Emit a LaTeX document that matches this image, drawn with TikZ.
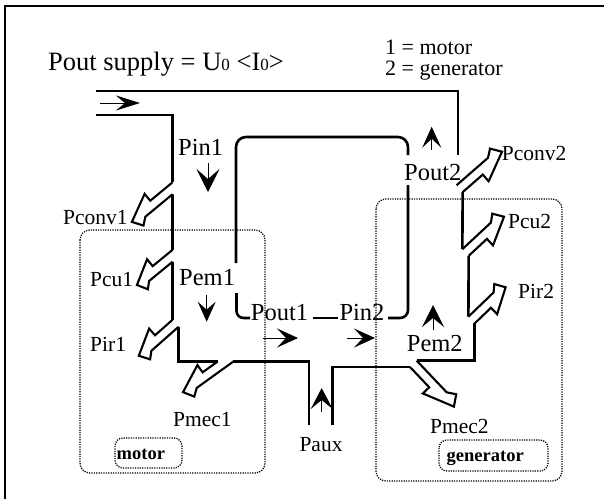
\documentclass[tikz,border=0pt]{standalone}
\usepackage{fontspec}
\setmainfont{Liberation Serif}
\usetikzlibrary{arrows.meta}
\tikzset{
  wall/.style={line width=2.6pt, line cap=butt, line join=miter},
  zline/.style={line width=2.1pt, line join=miter},
  flow/.style={line width=1pt, -{Stealth[length=21pt, width=19pt, inset=9pt]}},
  dotbox/.style={line width=1.3pt, dash pattern=on 1.2pt off 1.2pt, rounded corners=10pt},
  big/.style={inner sep=0pt, anchor=base west, font=\fontsize{24.5}{25}\selectfont},
  small/.style={inner sep=0pt, anchor=base west, font=\fontsize{21.5}{22}\selectfont},
  legend/.style={inner sep=0pt, anchor=base west, font=\fontsize{22}{22}\selectfont},
  boxtext/.style={inner sep=0pt, anchor=base west, font=\bfseries\fontsize{18.5}{19}\selectfont},
  pics/zarrow/.style n args={2}{code={
    \coordinate (-a) at (#2,-4.6);
    \coordinate (-b) at (-#2,4.6);
    \draw[zline] (#2,-4.6) -- ({0.741*#1},-4.6) -- ({0.875*#1},-10.2) -- (#1,0)
      -- ({0.475*#1},13.5) -- ({0.475*#1},4.6) -- (-#2,4.6);
  }},
}
\begin{document}
\begin{tikzpicture}[x=1pt,y=-1pt]
\useasboundingbox (0,0) rectangle (604,499);
% frame
\draw[line width=2.8pt] (5,499) -- (5,6) -- (604,6);

% title and legend
\node[inner sep=0pt, anchor=base west, font=\fontsize{26.5}{27}\selectfont] (title) at (48,70)
  {Pout supply = U{\fontsize{17}{17}\selectfont 0} <I{\fontsize{17}{17}\selectfont 0}>};
\node[legend] (leg1) at (385,54) {1 = motor};
\node[legend] (leg2) at (385,75) {2 = generator};

% dotted machine boxes
\draw[dotbox] (80,230) rectangle (265,473);
\draw[dotbox] (376,199) rectangle (562,481);
\draw[dotbox, rounded corners=8pt] (115,438) rectangle (182,468);
\draw[dotbox, rounded corners=8pt] (439,440) rectangle (548,471);
\node[boxtext] (motor) at (116.5,459.5) {motor};
\node[boxtext] (gen) at (446.5,461) {generator};

% hollow loss arrows
\pic[rotate=219.6] (pc1) at (172.5,188.3) {zarrow={52.7}{3.8}};
\pic[rotate=219.4] (pcu1) at (172.5,255.8) {zarrow={46}{3.78}};
\pic[rotate=221.5] (pir1) at (175.5,323.3) {zarrow={49}{0}};
\pic[rotate=215.8] (pm1) at (225.5,361.5) {zarrow={52.4}{-6.4}};
\pic[rotate=-46.5] (pm2) at (413.3,363.8) {zarrow={59}{0}};
\pic[rotate=43.9] (pir2) at (471.6,320) {zarrow={47.2}{0}};
\pic[rotate=42.9] (pcu2) at (465.5,252.5) {zarrow={52.6}{0}};
\pic[rotate=41.1] (pc2) at (459.6,188.7) {zarrow={56.3}{0}};

% walls of the power flow
\draw[wall] (96,91) -- (458,91) -- (458,155);
\draw[wall] (96,115) -| (pc1-b);
\draw[wall] (pc1-a) -- (pcu1-b);
\draw[wall] (pcu1-a) -- (pir1-b);
\draw[wall] (pir1-a) |- (pm1-b);
\draw[wall] (pm1-a) -| (309,425);
\draw[wall] (332.7,425) |- (pm2-b);
\draw[wall] (pm2-a) -| (pir2-b);
\draw[wall] (pir2-a) -- (pcu2-b);
\draw[wall] (pcu2-a) -- (pc2-b);
% inner loop
\draw[wall, rounded corners=10pt] (236,263) |- (408,137) -- (408,155);
\draw[wall, rounded corners=8pt] (408,185) |- (388,318);
\draw[wall] (313,318) -- (338,318);
\draw[wall, rounded corners=7pt] (250,318) -| (236.5,293);

% flow direction arrows
\draw[flow, -{Stealth[length=24pt, width=15pt, inset=9pt]}] (100,103) -- (140,103);
\draw[flow, -{Stealth[length=23pt, width=23pt, inset=10pt]}] (208,163) -- (208,192);
\draw[flow, -{Stealth[length=20pt, width=18pt, inset=8pt]}] (206.7,295) -- (206.7,321.7);
\draw[flow] (263,338) -- (298,338);
\draw[flow] (346.7,338) -- (375,338);
\draw[flow, -{Stealth[length=22pt, width=22pt, inset=9pt]}] (433,330) -- (433,305);
\draw[flow] (431.7,150) -- (431.7,126.7);
\draw[flow, -{Stealth[length=21pt, width=22pt, inset=9pt]}] (321.7,411.7) -- (321.7,388);

% labels
\node[big] (pin1) at (178,155) {Pin1};
\node[big] (pem1) at (179,285) {Pem1};
\node[big] (pout1) at (250.7,320) {Pout1};
\node[big] (pin2) at (339.3,320.5) {Pin2};
\node[big] (pem2) at (406.7,351.7) {Pem2};
\node[big] (pout2) at (404,180) {Pout2};
\node[small] (lpconv1) at (63,224) {Pconv1};
\node[small] (lpcu1) at (90,286) {Pcu1};
\node[small] (lpir1) at (90,351) {Pir1};
\node[small] (lpmec1) at (173,426.7) {Pmec1};
\node[small] (lpaux) at (299.3,451) {Paux};
\node[small] (lpmec2) at (430,433) {Pmec2};
\node[small] (lpir2) at (518,298) {Pir2};
\node[small] (lpcu2) at (508,228) {Pcu2};
\node[small] (lpconv2) at (501.7,160) {Pconv2};
\end{tikzpicture}
\end{document}
